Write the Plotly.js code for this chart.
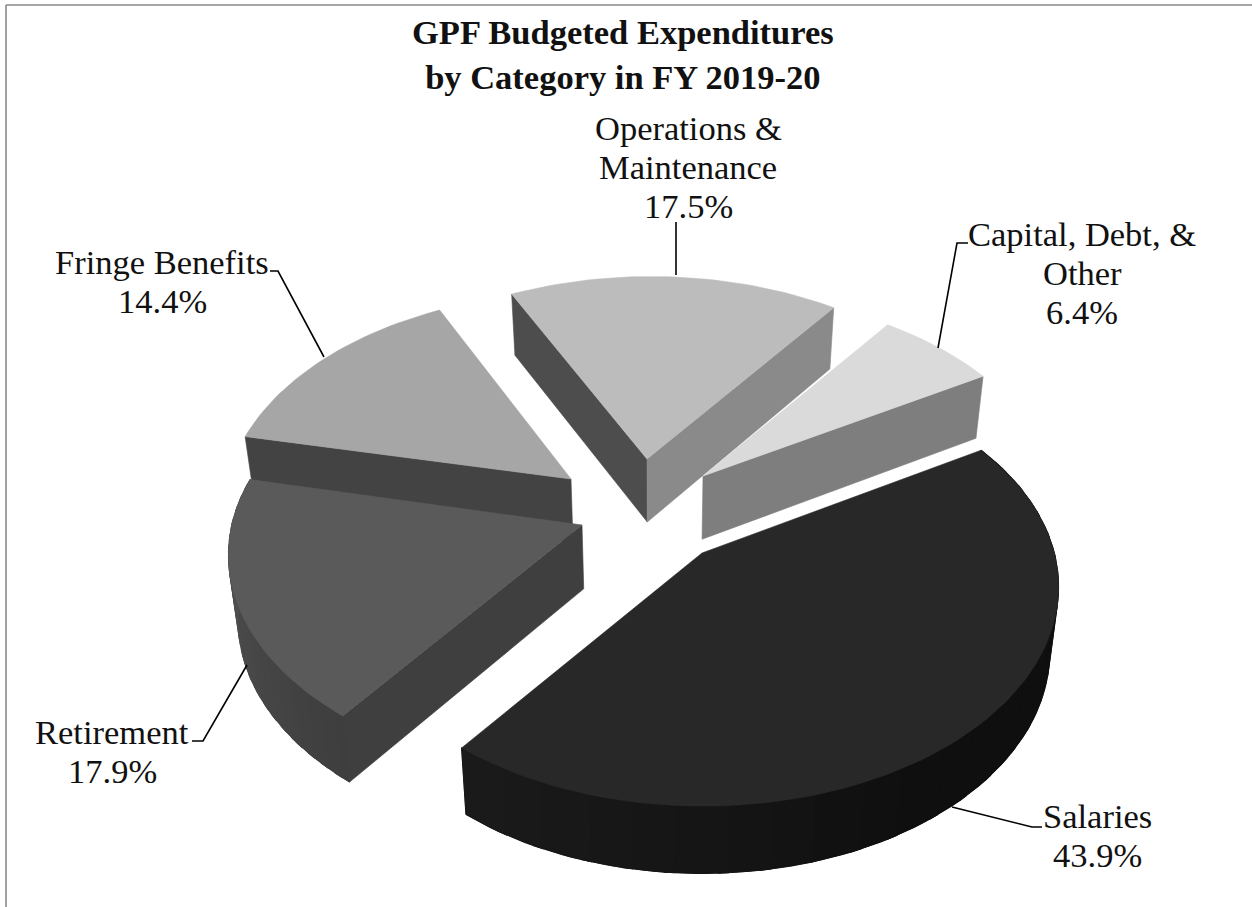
<!DOCTYPE html>
<html>
<head>
<meta charset="utf-8">
<script src="https://cdn.plot.ly/plotly-3.0.1.min.js"></script>
<style>html,body{margin:0;padding:0;background:#fff}#chart{width:1252px;height:907px}</style>
</head>
<body>
<div id="chart"></div>
<script>
// ---- data ----
const categories = ["Salaries", "Retirement", "Fringe Benefits", "Operations & Maintenance", "Capital, Debt, & Other"];
const values = [43.9, 17.9, 14.4, 17.5, 6.4];

// ---- label text lines per category ----
const labelLines = [["Salaries"], ["Retirement"], ["Fringe Benefits"], ["Operations &", "Maintenance"], ["Capital, Debt, &", "Other"]];

// ---- 3D pie styling ----
const firstAngle = 59, radius = 351, tilt = 0.609, persp = 0.159;
const topColors = ["#282828", "#5a5a5a", "#a6a6a6", "#bcbcbc", "#dadada"];
const explodeOrigin = [[702, 553], [582, 525], [571, 479], [647, 459], [703, 476]];
const rimNudge = [[1, -1], [2, -5], [8, -2], [4, 2], [2, 2]]; // perspective shift of each exploded slice's arc
const drawOrder = [3, 4, 2, 1, 0];
const startFace = {1: "#3f3f3f", 2: "#434343", 3: "#4d4d4d"}; // wall along the starting ray
const endFace = {3: "#8a8a8a", 4: "#7e7e7e"};                 // wall along the ending ray
const labelAt = [[1097, 816], [112, 732], [162, 262], [688, 128], [1082, 234]];
const lineGap = 39;
const leaders = [
  [[952, 807], [1032, 827], [1042, 827]],
  [[247, 665], [203, 741], [192, 741]],
  [[324, 357], [278, 271], [270, 271]],
  [[676, 275], [676, 222]],
  [[938, 348], [957, 243], [968, 243]]
];

function rad(d) { return d * Math.PI / 180; }
function rimOffset(th) {
  const w = 1 + persp * Math.cos(rad(th));
  return [radius * Math.sin(rad(th)) / w, -tilt * radius * Math.cos(rad(th)) / w];
}
function drop(p) { // top-face point -> matching point of the bottom face
  return [660 + (p[0] - 660) * 0.978, p[1] + 61 + (p[1] - 290) * 0.012];
}
function poly(points, color, lw) {
  const xs = points.map(p => p[0]), ys = points.map(p => p[1]);
  xs.push(xs[0]); ys.push(ys[0]);
  return {type: "scatter", mode: "lines", x: xs, y: ys, fill: "toself", fillcolor: color,
          line: {color: color, width: lw === undefined ? 0.6 : lw}, hoverinfo: "skip", showlegend: false};
}
function rimGrey(i, t) { // t runs from the start of the slice's arc to its end
  if (i === 0) return t < 0.55 ? 15 : Math.round(15 + (t - 0.55) / 0.45 * 11);
  return Math.round(62 + t * 22);
}

const total = values.reduce((a, b) => a + b, 0);
let cursor = firstAngle;
const spans = values.map(v => { const s = [cursor, cursor + v / total * 360]; cursor = s[1]; return s; });

const traces = [];
drawOrder.forEach(i => {
  const [a0, a1] = spans[i], o = explodeOrigin[i], nudge = rimNudge[i];
  const at = th => { const f = rimOffset(th); return [o[0] + f[0] + nudge[0], o[1] + f[1] + nudge[1]]; };
  const arc = [];
  const n = Math.max(8, Math.round((a1 - a0) / 1.5));
  for (let k = 0; k <= n; k++) arc.push(at(a0 + (a1 - a0) * k / n));
  if (startFace[i]) traces.push(poly([o, arc[0], drop(arc[0]), drop(o)], startFace[i]));
  if (endFace[i]) traces.push(poly([o, arc[n], drop(arc[n]), drop(o)], endFace[i]));
  if (i === 0 || i === 1) {
    const base = rimGrey(i, 0.5);
    traces.push(poly(arc.concat(arc.slice().reverse().map(drop)), `rgb(${base},${base},${base})`));
    const strips = 24;
    for (let s = 0; s < strips; s++) {
      const lo = Math.floor(s * n / strips), hi = Math.min(n, Math.ceil((s + 1) * n / strips));
      const g = rimGrey(i, s / (strips - 1));
      const pts = arc.slice(lo, hi + 1);
      traces.push(poly(pts.concat(pts.slice().reverse().map(drop)), `rgb(${g},${g},${g})`, 1.2));
    }
  }
  traces.push(poly([o].concat(arc), topColors[i]));
});

leaders.forEach(l => traces.push({
  type: "scatter", mode: "lines", x: l.map(p => p[0]), y: l.map(p => p[1]),
  line: {color: "#000", width: 1.6}, hoverinfo: "skip", showlegend: false
}));

const annotations = [];
const labelFont = {family: "Liberation Serif, serif", size: 34.5, color: "#111"};
categories.forEach((c, i) => {
  const lines = labelLines[i].concat([values[i].toFixed(1) + "%"]);
  lines.forEach((text, k) => annotations.push({
    x: labelAt[i][0], y: labelAt[i][1] + k * lineGap, xref: "x", yref: "y",
    text: text, showarrow: false, xanchor: "center", yanchor: "middle", font: labelFont
  }));
});

const layout = {
  width: 1252, height: 907, margin: {l: 0, r: 0, t: 0, b: 0},
  paper_bgcolor: "#fff", plot_bgcolor: "#fff", showlegend: false,
  title: {text: "<b>GPF Budgeted Expenditures<br>by Category in FY 2019-20</b>",
          x: 0.4975, xanchor: "center", y: 0.951, yanchor: "middle",
          font: {family: "Liberation Serif, serif", size: 34.5, color: "#111"}},
  xaxis: {range: [0, 1252], visible: false, fixedrange: true},
  yaxis: {range: [907, 0], visible: false, fixedrange: true},
  annotations: annotations,
  shapes: [
    {type: "line", xref: "x", yref: "y", x0: 6, x1: 1252, y0: 5, y1: 5, line: {color: "#8a8a8a", width: 1.6}},
    {type: "line", xref: "x", yref: "y", x0: 6, x1: 6, y0: 5, y1: 907, line: {color: "#8a8a8a", width: 1.6}}
  ]
};
Plotly.newPlot("chart", traces, layout, {displayModeBar: false, staticPlot: true});
</script>
</body>
</html>
